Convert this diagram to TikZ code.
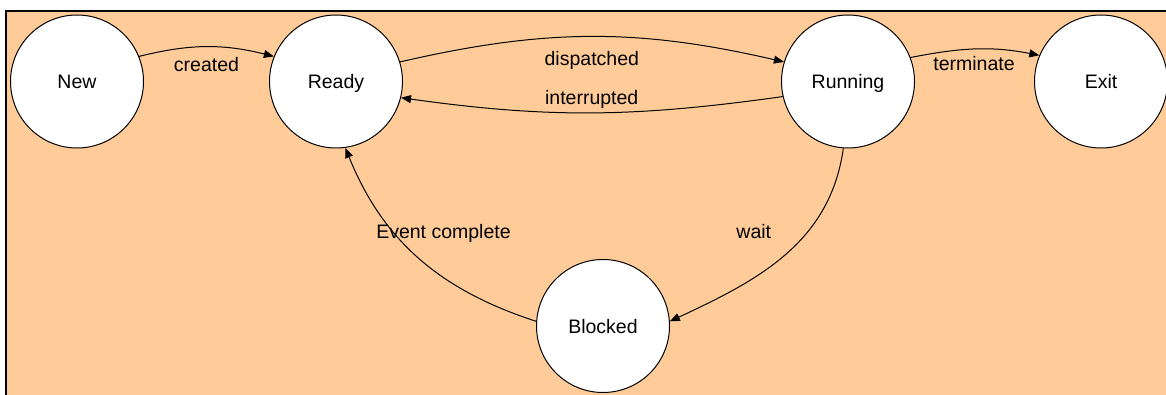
\documentclass[tikz,border=0pt]{standalone}
\usepackage{fontspec}
\setmainfont{Liberation Sans}
\usetikzlibrary{arrows.meta}
\definecolor{paper}{HTML}{FFCC99}
\begin{document}
\begin{tikzpicture}[x=1pt,y=1pt,
  state/.style={circle,draw,fill=white,line width=1pt,minimum size=133pt,
    inner sep=0pt,text height=14.3pt,text depth=0pt,
    font=\fontsize{19.5}{23}\selectfont},
  lbl/.style={anchor=base,inner sep=0pt,font=\fontsize{19.5}{23}\selectfont},
  flow/.style={-{Triangle[length=10pt,width=8pt]},line width=1pt}]
\useasboundingbox (0,0) rectangle (1166,-395);
% panel background with its top and left rule
\fill[paper] (5.5,-11) rectangle (1166,-395);
\draw[line width=2pt] (5.5,-395) -- (5.5,-11) -- (1166,-11);

% process states
\node[state] (new)     at (77,-81.5)  {New};
\node[state] (ready)   at (336,-81.5) {Ready};
\node[state] (running) at (848,-81.5) {Running};
\node[state] (exit)    at (1101,-81.5) {Exit};
\node[state] (blocked) at (603,-326)  {Blocked};

% transitions
\draw[flow] (new.22) to[out=14,in=166] (ready.158);
\draw[flow] (ready.17) to[out=13,in=167] (running.163);
\draw[flow] (running.193) to[out=188,in=-8] (ready.346);
\draw[flow] (running.21) to[out=11,in=169] (exit.157);
\draw[flow] (running.266) to[out=262,in=25] (blocked.4);
\draw[flow] (blocked.176) to[out=162,in=292] (ready.278);

% transition labels
\node[lbl] (lcreated)    at (206.5,-71.3) {created};
\node[lbl] (ldispatched) at (591.8,-66)   {dispatched};
\node[lbl] (linterrupt)  at (591.7,-105)  {interrupted};
\node[lbl] (lterminate)  at (974,-70.7)   {terminate};
\node[lbl] (lwait)       at (753.8,-238.3) {wait};
\node[lbl] (levent)      at (443.5,-238.3) {Event complete};
\end{tikzpicture}
\end{document}
